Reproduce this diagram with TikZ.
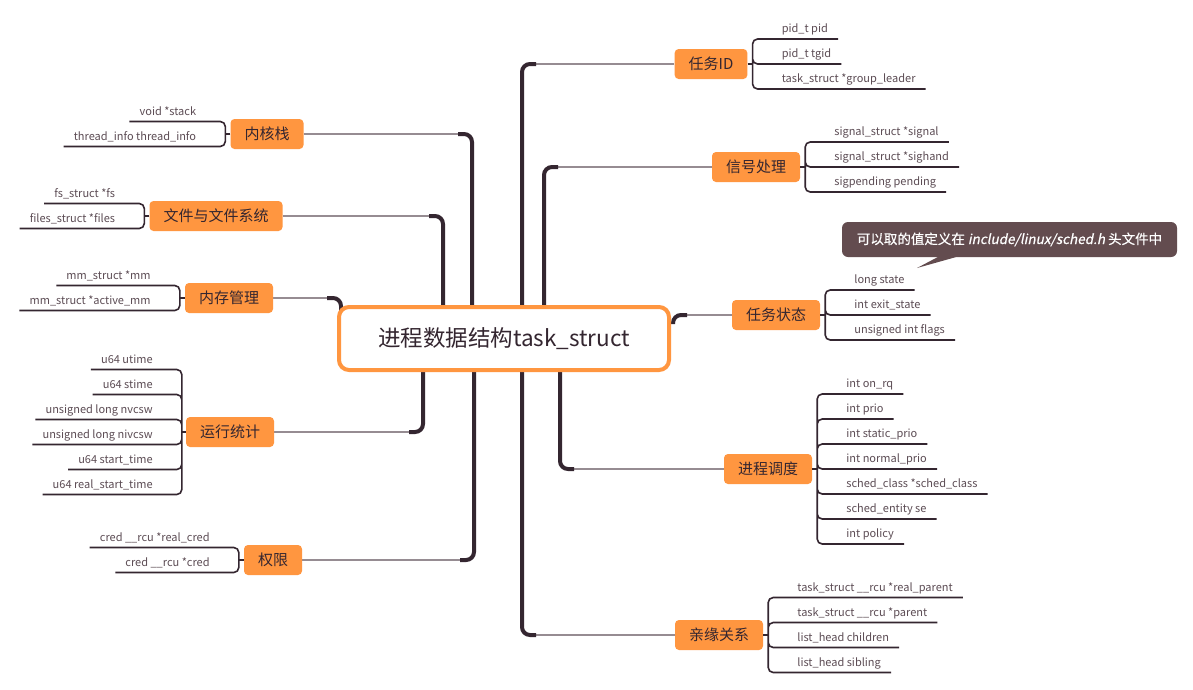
\documentclass[tikz,border=0pt]{standalone}
\usepackage{fontspec}
\setmainfont{Noto Sans CJK SC}
\newfontfamily\slantfont{Noto Sans CJK SC}[FakeSlant=0.2, FakeBold=0.6]
\newfontfamily\notefont{Noto Sans CJK SC}[FakeBold=0.6]
\usetikzlibrary{positioning,backgrounds}

\definecolor{mmorange}{RGB}{255,150,64}
\definecolor{mmink}{RGB}{52,38,48}
\definecolor{mmgray}{RGB}{150,140,146}
\definecolor{mmtext}{RGB}{92,76,84}
\definecolor{mmnote}{RGB}{99,76,79}

\tikzset{
  root/.style={draw=mmorange, line width=4pt, fill=white, rounded corners=10pt,
    minimum width=330pt, minimum height=63pt, text=mmink, font=\fontsize{22.5}{26}\selectfont},
  topic/.style={fill=mmorange, rounded corners=4pt, minimum height=30pt, inner xsep=14pt,
    text=mmink, font=\fontsize{15}{18}\selectfont},
  leaf/.style={inner sep=0pt, text height=8pt, text depth=6pt, text=mmtext,
    font=\fontsize{11}{13}\selectfont},
  note/.style={fill=mmnote, rounded corners=6pt, minimum width=335pt, minimum height=35pt,
    text=white, font=\notefont\fontsize{13.5}{16}\selectfont},
  trunk/.style={draw=mmink, line width=4pt, rounded corners=8pt},
  stem/.style={draw=mmgray, line width=1.5pt},
  twig/.style={draw=mmink, line width=1.6pt, rounded corners=5pt},
}

\begin{document}
\begin{tikzpicture}[x=1pt, y=-1pt]
  \useasboundingbox (0,0) rectangle (1193,689);
  \node[root] (root) at (504,338.5) {进程数据结构task\_struct};

  \node[topic] (knl) at (267,134) {内核栈};
  \node[topic] (fs) at (216,216) {文件与文件系统};
  \node[topic] (mem) at (229,298) {内存管理};
  \node[topic] (acct) at (230,432) {运行统计};
  \node[topic] (cred) at (273,560) {权限};
  \node[topic] (tid) at (711,64) {任务ID};
  \node[topic] (sig) at (756,167) {信号处理};
  \node[topic] (state) at (776,315) {任务状态};
  \node[topic] (sched) at (768,469) {进程调度};
  \node[topic] (rel) at (719,635) {亲缘关系};

  \coordinate (knlb) at ([xshift=-5pt]knl.west);
  \coordinate (fsb) at ([xshift=-5pt]fs.west);
  \coordinate (memb) at ([xshift=-5pt]mem.west);
  \coordinate (acctb) at ([xshift=-4pt]acct.west);
  \coordinate (credb) at ([xshift=-5pt]cred.west);
  \coordinate (tidb) at ([xshift=5pt]tid.east);
  \coordinate (sigb) at ([xshift=5pt]sig.east);
  \coordinate (stateb) at ([xshift=5pt]state.east);
  \coordinate (schedb) at ([xshift=5pt]sched.east);
  \coordinate (relb) at ([xshift=5pt]rel.east);

  % left leaves
  \node[leaf, anchor=south east] (knl1) at ([xshift=-29pt, yshift=12.5pt]knlb) {void *stack};
  \node[leaf, below=25pt of knl1.south east, anchor=south east] (knl2) {thread\_info thread\_info};
  \node[leaf, anchor=south east] (fs1) at ([xshift=-29pt, yshift=12.5pt]fsb) {fs\_struct *fs};
  \node[leaf, below=25pt of fs1.south east, anchor=south east] (fs2) {files\_struct *files};
  \node[leaf, anchor=south east] (mem1) at ([xshift=-29pt, yshift=12.5pt]memb) {mm\_struct *mm};
  \node[leaf, below=25pt of mem1.south east, anchor=south east] (mem2) {mm\_struct *active\_mm};
  \node[leaf, anchor=south east] (acct1) at ([xshift=-29pt, yshift=62.5pt]acctb) {u64 utime};
  \node[leaf, below=25pt of acct1.south east, anchor=south east] (acct2) {u64 stime};
  \node[leaf, below=25pt of acct2.south east, anchor=south east] (acct3) {unsigned long nvcsw};
  \node[leaf, below=25pt of acct3.south east, anchor=south east] (acct4) {unsigned long nivcsw};
  \node[leaf, below=25pt of acct4.south east, anchor=south east] (acct5) {u64 start\_time};
  \node[leaf, below=25pt of acct5.south east, anchor=south east] (acct6) {u64 real\_start\_time};
  \node[leaf, anchor=south east] (cred1) at ([xshift=-29pt, yshift=12.5pt]credb) {cred \_\_rcu *real\_cred};
  \node[leaf, below=25pt of cred1.south east, anchor=south east] (cred2) {cred \_\_rcu *cred};

  % right leaves
  \node[leaf, anchor=south west] (tid1) at ([xshift=29pt, yshift=25pt]tidb) {pid\_t pid};
  \node[leaf, below=25pt of tid1.south west, anchor=south west] (tid2) {pid\_t tgid};
  \node[leaf, below=25pt of tid2.south west, anchor=south west] (tid3) {task\_struct *group\_leader};
  \node[leaf, anchor=south west] (sig1) at ([xshift=29pt, yshift=25pt]sigb) {signal\_struct *signal};
  \node[leaf, below=25pt of sig1.south west, anchor=south west] (sig2) {signal\_struct *sighand};
  \node[leaf, below=25pt of sig2.south west, anchor=south west] (sig3) {sigpending pending};
  \node[leaf, anchor=south west] (state1) at ([xshift=29pt, yshift=25pt]stateb) {long state};
  \node[leaf, below=25pt of state1.south west, anchor=south west] (state2) {int exit\_state};
  \node[leaf, below=25pt of state2.south west, anchor=south west] (state3) {unsigned int flags};
  \node[leaf, anchor=south west] (sched1) at ([xshift=29pt, yshift=75pt]schedb) {int on\_rq};
  \node[leaf, below=25pt of sched1.south west, anchor=south west] (sched2) {int prio};
  \node[leaf, below=25pt of sched2.south west, anchor=south west] (sched3) {int static\_prio};
  \node[leaf, below=25pt of sched3.south west, anchor=south west] (sched4) {int normal\_prio};
  \node[leaf, below=25pt of sched4.south west, anchor=south west] (sched5) {sched\_class *sched\_class};
  \node[leaf, below=25pt of sched5.south west, anchor=south west] (sched6) {sched\_entity se};
  \node[leaf, below=25pt of sched6.south west, anchor=south west] (sched7) {int policy};
  \node[leaf, anchor=south west] (rel1) at ([xshift=29pt, yshift=37.5pt]relb) {task\_struct \_\_rcu *real\_parent};
  \node[leaf, below=25pt of rel1.south west, anchor=south west] (rel2) {task\_struct \_\_rcu *parent};
  \node[leaf, below=25pt of rel2.south west, anchor=south west] (rel3) {list\_head children};
  \node[leaf, below=25pt of rel3.south west, anchor=south west] (rel4) {list\_head sibling};

  % brackets
  \draw[twig] (knl.west) -- (knlb);
  \draw[twig] (knlb) |- ([xshift=-10pt]knl1.south west) (knlb) |- ([xshift=-10pt]knl2.south west);
  \draw[twig] (fs.west) -- (fsb);
  \draw[twig] (fsb) |- ([xshift=-10pt]fs1.south west) (fsb) |- ([xshift=-10pt]fs2.south west);
  \draw[twig] (mem.west) -- (memb);
  \draw[twig] (memb) |- ([xshift=-10pt]mem1.south west) (memb) |- ([xshift=-10pt]mem2.south west);
  \draw[twig] (acct.west) -- (acctb);
  \draw[twig] (acctb) |- ([xshift=-10pt]acct1.south west) (acctb) |- ([xshift=-10pt]acct2.south west)
    (acctb) |- ([xshift=-10pt]acct3.south west) (acctb) |- ([xshift=-10pt]acct4.south west)
    (acctb) |- ([xshift=-10pt]acct5.south west) (acctb) |- ([xshift=-10pt]acct6.south west);
  \draw[twig] (cred.west) -- (credb);
  \draw[twig] (credb) |- ([xshift=-10pt]cred1.south west) (credb) |- ([xshift=-10pt]cred2.south west);
  \draw[twig] (tid.east) -- (tidb);
  \draw[twig] (tidb) |- ([xshift=10pt]tid1.south east) (tidb) |- ([xshift=10pt]tid2.south east)
    (tidb) |- ([xshift=10pt]tid3.south east);
  \draw[twig] (sig.east) -- (sigb);
  \draw[twig] (sigb) |- ([xshift=10pt]sig1.south east) (sigb) |- ([xshift=10pt]sig2.south east)
    (sigb) |- ([xshift=10pt]sig3.south east);
  \draw[twig] (state.east) -- (stateb);
  \draw[twig] (stateb) |- ([xshift=10pt]state1.south east) (stateb) |- ([xshift=10pt]state2.south east)
    (stateb) |- ([xshift=10pt]state3.south east);
  \draw[twig] (sched.east) -- (schedb);
  \draw[twig] (schedb) |- ([xshift=10pt]sched1.south east) (schedb) |- ([xshift=10pt]sched2.south east)
    (schedb) |- ([xshift=10pt]sched3.south east) (schedb) |- ([xshift=10pt]sched4.south east)
    (schedb) |- ([xshift=10pt]sched5.south east) (schedb) |- ([xshift=10pt]sched6.south east)
    (schedb) |- ([xshift=10pt]sched7.south east);
  \draw[twig] (rel.east) -- (relb);
  \draw[twig] (relb) |- ([xshift=10pt]rel1.south east) (relb) |- ([xshift=10pt]rel2.south east)
    (relb) |- ([xshift=10pt]rel3.south east) (relb) |- ([xshift=10pt]rel4.south east);

  % note on the task state
  \node[note] (note) at (1009.5,239.5) {可以取的值定义在 {\slantfont include/linux/sched.h} 头文件中};
  \coordinate (notetip) at (917,268);
  \fill[mmnote] ([xshift=-72pt]note.south) -- ([xshift=-54pt]note.south) -- (notetip) -- cycle;

  \coordinate (stateroot) at (673,324);
  \begin{scope}[on background layer]
    \fill[white] (0,0) rectangle (1193,689);
    \draw[stem] (knl.east) -- (462,0 |- knl.east);
    \draw[trunk] (472,0 |- root.center) |- (458,0 |- knl.east);
    \draw[stem] (fs.east) -- (433,0 |- fs.east);
    \draw[trunk] (443,0 |- root.center) |- (429,0 |- fs.east);
    \draw[stem] (mem.east) -- (331,0 |- mem.east);
    \draw[trunk] (341,0 |- root.center) |- (327,0 |- mem.east);
    \draw[stem] (acct.east) -- (413,0 |- acct.east);
    \draw[trunk] (423,0 |- root.center) |- (409,0 |- acct.east);
    \draw[stem] (cred.east) -- (464,0 |- cred.east);
    \draw[trunk] (474,0 |- root.center) |- (460,0 |- cred.east);
    \draw[stem] (tid.west) -- (532,0 |- tid.west);
    \draw[trunk] (522,0 |- root.center) |- (536,0 |- tid.west);
    \draw[stem] (sig.west) -- (554,0 |- sig.west);
    \draw[trunk] (544,0 |- root.center) |- (558,0 |- sig.west);
    \draw[stem] (state.west) -- (683,0 |- state.west);
    \draw[trunk] (stateroot) |- (687,0 |- state.west);
    \draw[stem] (sched.west) -- (570,0 |- sched.west);
    \draw[trunk] (560,0 |- root.center) |- (574,0 |- sched.west);
    \draw[stem] (rel.west) -- (532,0 |- rel.west);
    \draw[trunk] (522,0 |- root.center) |- (536,0 |- rel.west);
  \end{scope}
\end{tikzpicture}
\end{document}
